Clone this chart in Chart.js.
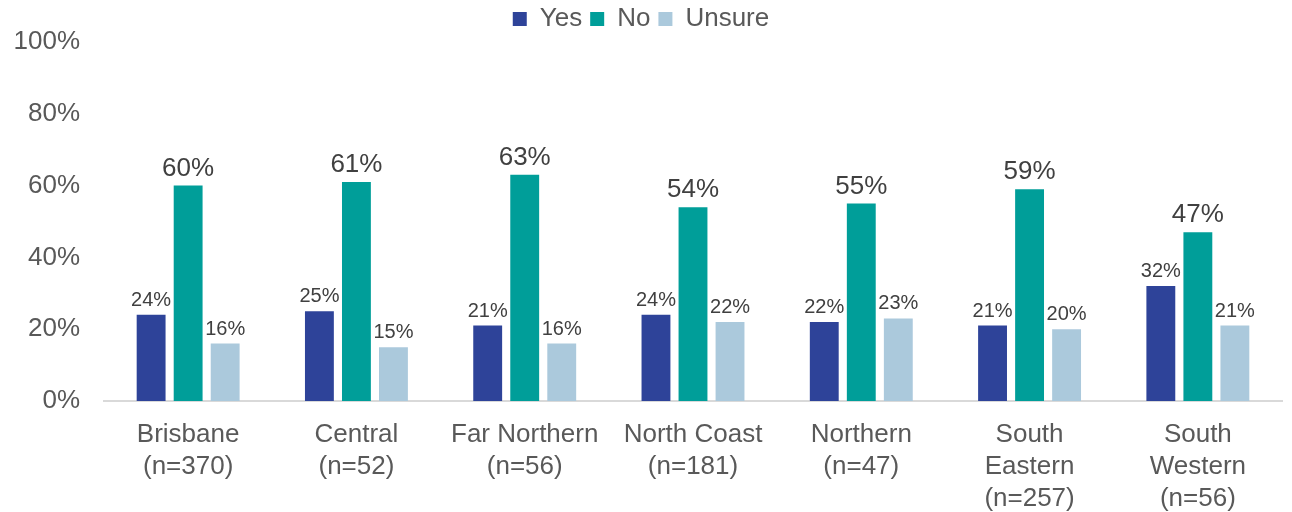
<!DOCTYPE html>
<html>
<head>
<meta charset="utf-8">
<script src="https://cdn.jsdelivr.net/npm/chart.js@4.4.1/dist/chart.umd.min.js"></script>
<style>
  html, body { margin: 0; padding: 0; background: #fff; }
  #wrap { width: 1292px; height: 512px; }
</style>
</head>
<body>
<div id="wrap"><canvas id="chart" width="1292" height="512"></canvas></div>
<script>
// Chart data
const regions = [
  ['Brisbane', '(n=370)'],
  ['Central', '(n=52)'],
  ['Far Northern', '(n=56)'],
  ['North Coast', '(n=181)'],
  ['Northern', '(n=47)'],
  ['South', 'Eastern', '(n=257)'],
  ['South', 'Western', '(n=56)']
];
const yesValues = [24, 25, 21, 24, 22, 21, 32];
const noValues = [60, 61, 63, 54, 55, 59, 47];
const unsureValues = [16, 15, 16, 22, 23, 20, 21];
const yTicks = [0, 20, 40, 60, 80, 100];

const FONT = '"Liberation Sans", Arial, sans-serif';

// draws the % labels above each bar
const barLabels = {
  id: 'barLabels',
  afterDatasetsDraw(chart) {
    const ctx = chart.ctx;
    ctx.save();
    ctx.textAlign = 'center';
    ctx.textBaseline = 'alphabetic';
    ctx.fillStyle = '#404040';
    chart.data.datasets.forEach((ds, i) => {
      const meta = chart.getDatasetMeta(i);
      const big = ds.label === 'No';
      ctx.font = (big ? '26px ' : '20px ') + FONT;
      meta.data.forEach((bar, j) => {
        ctx.fillText(ds.data[j] + '%', bar.x, bar.y - (big ? 10 : 9));
      });
    });
    ctx.restore();
  }
};

const ctx = document.getElementById('chart').getContext('2d');
const chart = new Chart(ctx, {
  type: 'bar',
  data: {
    labels: regions,
    datasets: [{
      label: 'Yes',
      data: yesValues,
      backgroundColor: '#2E4399'
    }, {
      label: 'No',
      data: noValues,
      backgroundColor: '#009E99'
    }, {
      label: 'Unsure',
      data: unsureValues,
      backgroundColor: '#ABC9DC'
    }]
  },
  options: {
    responsive: false,
    animation: false,
    categoryPercentage: 0.66,
    barPercentage: 0.78,
    layout: { padding: { left: 0, right: 10, top: -2, bottom: 0 } },
    scales: {
      x: {
        grid: { display: false },
        border: { color: '#D9D9D9', width: 2 },
        afterFit(axis) {
          axis.height = 111;
        },
        ticks: {
          color: '#595959',
          font: { family: FONT, size: 26, lineHeight: 1.23 },
          maxRotation: 0,
          autoSkip: false,
          padding: 10
        }
      },
      y: {
        min: 0,
        max: 100,
        afterBuildTicks(axis) {
          axis.ticks = yTicks.map(v => ({ value: v }));
        },
        afterFit(axis) {
          axis.width = 104;
        },
        grid: { display: false },
        border: { display: false },
        ticks: {
          color: '#595959',
          font: { family: FONT, size: 26 },
          padding: 16,
          callback: v => v + '%'
        }
      }
    },
    plugins: {
      legend: {
        position: 'top',
        labels: {
          color: '#595959',
          font: { family: FONT, size: 26 },
          boxWidth: 14,
          boxHeight: 14,
          padding: 8
        }
      },
      tooltip: { enabled: false }
    }
  },
  plugins: [barLabels]
});
</script>
</body>
</html>
